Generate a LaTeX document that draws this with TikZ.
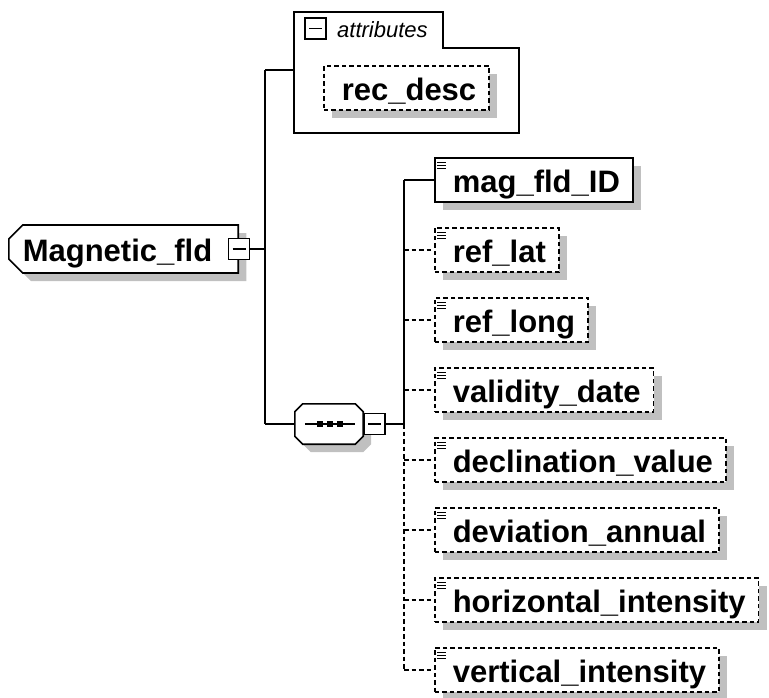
\documentclass[tikz,border=0pt]{standalone}
\usepackage{fontspec}
\usetikzlibrary{positioning,shapes.misc,shadows}
\newfontfamily\xsfont{Liberation Sans}
\definecolor{xsshade}{RGB}{192,192,192}

\tikzset{
  shadowed/.style={drop shadow={shadow xshift=8pt,shadow yshift=-8pt,opacity=1,fill=xsshade}},
  reqline/.style={line width=1.6pt},
  optline/.style={line width=1.6pt,dash pattern=on 4.5pt off 3pt},
  namefont/.style={font=\xsfont\bfseries\fontsize{31}{36}\selectfont},
  elembox/.style={draw,fill=white,shadowed,reqline,namefont,
    minimum height=44pt,inner xsep=0pt,inner ysep=0pt,text height=24pt,text depth=0pt,anchor=west,
    execute at begin node={\hspace*{18pt}},execute at end node={\hspace*{13pt}}},
  optbox/.style={elembox,optline},
  rootbox/.style={chamfered rectangle,chamfered rectangle corners={north west,south west},
    chamfered rectangle xsep=7pt,chamfered rectangle ysep=7pt,draw,fill=white,shadowed,reqline,namefont,
    minimum height=48pt,inner xsep=0pt,inner ysep=0pt,text height=24pt,text depth=0pt,anchor=west,
    execute at begin node={\hspace*{7pt}},execute at end node={\hspace*{19pt}}},
  seqbox/.style={minimum width=68pt,minimum height=40pt,inner sep=0pt},
  expbox/.style={draw,fill=white,reqline,minimum size=21pt,inner sep=0pt,
    path picture={\draw[reqline] ([xshift=4pt]path picture bounding box.west) -- ([xshift=-4pt]path picture bounding box.east);}},
  txticon/.style={line width=1.2pt},
}

\begin{document}
\begin{tikzpicture}[x=1pt,y=-1pt]
\useasboundingbox (0,0) rectangle (769,697);

% root element
\node[rootbox] (magfld) at (8,249) {Magnetic\_fld};
\node[expbox] (rootexp) at (magfld.east) {};
\coordinate (rootjoin) at (265,249);

% attribute group
\draw[reqline] (294,12) -- (443,12) -- (443,48) -- (519,48) -- (519,133) -- (294,133) -- cycle;
\node[expbox] (attrexp) at (315.5,28.5) {};
\node[font=\xsfont\itshape\fontsize{22}{26}\selectfont,anchor=base west,inner sep=0pt] (attrlbl) at (337,37) {attributes};
\coordinate (attrin) at (294,70);
\node[optbox] (recdesc) at (323,88) {rec\_desc};

% sequence compositor
\node[seqbox] (seq) at (329,424) {};
\draw[reqline,fill=white,shadowed] ([xshift=8pt]seq.north west) -- ([xshift=-8pt]seq.north east)
  -- ([yshift=-8pt]seq.north east) -- ([yshift=8pt]seq.south east)
  -- ([xshift=-8pt]seq.south east) -- ([xshift=8pt]seq.south west)
  -- ([yshift=8pt]seq.south west) -- ([yshift=-8pt]seq.north west) -- cycle;
\node[expbox,right=0pt of seq] (seqexp) {};
\draw[reqline] ([xshift=10pt]seq.west) -- ([xshift=-8pt]seq.east);
\foreach \dx in {-9,1,11}
  \fill ([xshift=\dx pt]seq.center) ++(-2.6pt,-2.6pt) rectangle ++(5.2pt,5.2pt);
\coordinate (seqjoin) at (404,424);

% child elements
\node[elembox] (magfldid) at (434,180) {mag\_fld\_ID};
\foreach \nm/\txt [count=\i] in {reflat/ref\_lat,reflong/ref\_long,validdate/validity\_date,
    declval/declination\_value,devannual/deviation\_annual,
    horizint/horizontal\_intensity,vertint/vertical\_intensity}
  \node[optbox] (\nm) at (434,{180+70*\i}) {\txt};

% text content icons
\foreach \nm in {magfldid,reflat,reflong,validdate,declval,devannual,horizint,vertint}
  \foreach \dy in {5,8.3,11.6}
    \draw[txticon] ([shift={(3pt,-\dy pt)}]\nm.north west) -- ++(9pt,0pt);

% connectors
\draw[reqline] (rootexp.east) -- (rootexp.east -| rootjoin);
\draw[reqline] (rootjoin |- attrin) -- (rootjoin |- seq.west);
\draw[reqline] (rootjoin |- attrin) -- (attrin);
\draw[reqline] (rootjoin |- seq.west) -- (seq.west);
\draw[reqline] (seqexp.east) -- (seqjoin);
\draw[reqline] (seqjoin |- magfldid.west) -- (seqjoin);
\draw[reqline] (seqjoin |- magfldid.west) -- (magfldid.west);
\draw[optline] (seqjoin) -- (seqjoin |- vertint.west);
\foreach \nm in {reflat,reflong,validdate,declval,devannual,horizint,vertint}
  \draw[optline] (seqjoin |- \nm.west) -- (\nm.west);
\end{tikzpicture}
\end{document}
